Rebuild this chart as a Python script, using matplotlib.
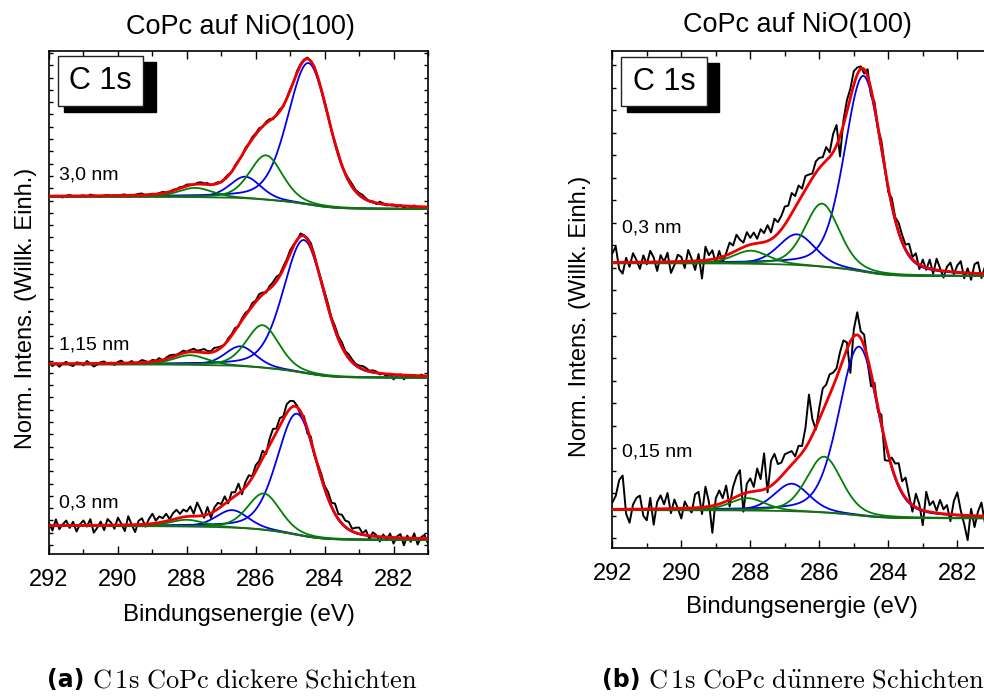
import numpy as np
import matplotlib.pyplot as plt
from matplotlib.patches import Rectangle
from matplotlib.ticker import MultipleLocator

plt.rcParams['font.family'] = ['Liberation Sans', 'DejaVu Sans']
plt.rcParams['mathtext.fontset'] = 'cm'

# measurement grid (binding energy, eV), 0.1 eV steps from 292 down to 281
energy = np.round(np.arange(292.0, 280.95, -0.1), 2)

# ---- fitted components: centre (eV), height, FWHM (eV); order C1, C2, C1-sat, C2-sat
comp_colors = ['#0000ee', '#008000', '#0000ee', '#008000']
lorentz_frac = 0.3

# left panel (dickere Schichten), y unit = one y tick
centers_30 = [284.47, 285.70, 286.30, 287.75]
heights_30 = [11.5, 3.60, 1.75, 0.75]
fwhm_30 = [1.42, 1.12, 1.05, 1.15]
bg_30 = (28.32, 27.32)   # background level at 292 eV / 281 eV

centers_115 = [284.60, 285.80, 286.44, 287.90]
heights_115 = [10.8, 3.45, 1.60, 0.78]
fwhm_115 = [1.42, 1.12, 1.05, 1.15]
bg_115 = (14.69, 13.60)

centers_03a = [284.80, 285.76, 286.68, 288.00]
heights_03a = [9.85, 2.95, 1.42, 0.55]
fwhm_03a = [1.38, 1.12, 1.10, 1.15]
bg_03a = (1.54, 0.41)

# right panel (duennere Schichten)
centers_03b = [284.72, 285.92, 286.65, 287.98]
heights_03b = [8.7, 2.80, 1.36, 0.58]
fwhm_03b = [1.30, 1.18, 1.25, 1.20]
bg_03b = (12.21, 11.64)

centers_015 = [284.85, 285.86, 286.80, 288.08]
heights_015 = [7.5, 2.48, 1.22, 0.55]
fwhm_015 = [1.38, 1.20, 1.20, 1.20]
bg_015 = (1.24, 0.88)

resid_30 = [0.05, -0.1, 0.0, -0.05, -0.12, 0.02, 0.08, -0.03, -0.08, 0.0,
            0.04, -0.06, 0.1, 0.03, -0.05, -0.1, 0.02, 0.06, -0.04, 0.0,
            -0.05, 0.05, 0.08, -0.02, -0.08, 0.03, 0.1, 0.12, -0.05, 0.02,
            0.06, -0.04, 0.05, 0.1, 0.0, -0.06, 0.08, 0.04, 0.1, 0.05,
            0.12, 0.05, -0.05, 0.1, 0.15, 0.08, 0.12, -0.05, 0.05, 0.1,
            -0.05, 0.08, 0.1, -0.06, 0.1, 0.05, -0.08, 0.12, 0.05, 0.15,
            0.08, 0.15, -0.05, 0.1, 0.12, -0.1, 0.05, 0.15, -0.1, 0.05,
            0.1, -0.05, 0.15, 0.1, 0.05, 0.08, -0.05, 0.05, -0.08, 0.0,
            0.05, 0.1, -0.05, 0.08, 0.12, -0.05, 0.05, 0.15, 0.2, 0.1,
            0.15, 0.2, 0.08, -0.05, 0.05, -0.1, 0.15, 0.05, -0.08, 0.0,
            0.05, -0.1, 0.05, -0.15, 0.02, -0.05, 0.08, -0.1, 0.0, -0.12, 0.05]
resid_115 = [0.1, -0.2, 0.05, -0.25, 0.0, 0.15, -0.1, -0.2, 0.1, 0.05,
             -0.15, 0.2, 0.0, -0.25, -0.1, 0.1, 0.15, -0.05, 0.05, -0.15,
             0.1, 0.2, -0.05, 0.0, 0.15, -0.1, 0.05, 0.2, 0.1, -0.05,
             0.15, 0.05, 0.2, -0.05, 0.1, 0.2, 0.15, 0.05, 0.1, 0.2,
             0.05, 0.15, 0.25, 0.1, 0.2, 0.3, 0.15, 0.1, 0.3, 0.2,
             0.1, -0.05, 0.15, 0.1, 0.2, -0.1, 0.15, 0.2, 0.05, 0.25,
             0.1, 0.3, 0.15, -0.1, 0.2, 0.25, 0.35, 0.1, 0.2, 0.15,
             0.25, 0.1, -0.1, 0.2, 0.05, 0.1, 0.25, 0.15, -0.05, 0.1,
             0.2, 0.25, 0.1, 0.3, 0.2, 0.35, 0.15, 0.3, 0.2, 0.1,
             0.15, 0.25, 0.2, 0.05, 0.15, 0.1, -0.1, 0.0, -0.2, 0.05,
             -0.4, -0.1, 0.05, -0.35, 0.0, -0.15, 0.05, -0.2, 0.1, -0.05, 0.0]
resid_03a = [0.2, -0.4, 0.5, -0.3, 0.1, 0.4, -0.2, 0.3, -0.5, 0.1,
             0.4, -0.1, 0.5, -0.6, -0.2, 0.3, -0.4, 0.5, 0.2, -0.3,
             0.6, 0.1, -0.5, 0.7, 0.0, -0.6, 0.3, 0.5, -0.2, 0.4,
             0.8, 0.2, 0.5, 0.3, 0.6, 0.1, 0.5, 0.7, 0.3, 0.6,
             0.4, 0.8, 0.2, 1.1, 0.5, -0.2, 0.6, -0.4, 0.3, 0.5,
             0.2, 0.6, -0.2, 0.5, 0.3, 0.8, -0.3, 0.4, 0.6, 0.1,
             0.5, 0.3, 0.6, -0.2, 0.5, 0.8, 0.3, 0.6, 0.2, 0.7,
             0.6, 0.4, 0.1, -0.3, 0.2, -0.4, 0.3, -0.2, 0.1, 0.3,
             0.2, 0.5, 0.3, 0.8, 0.4, 0.7, 0.5, 0.6, 0.2, 0.4,
             0.5, 0.1, 0.4, -0.3, 0.3, 0.1, -0.4, 0.2, -0.2, 0.3,
             -0.5, 0.1, 0.3, -0.6, 0.2, -0.3, 0.4, -0.5, 0.1, 0.3, -0.4]
resid_03b = [0.4, 0.7, -0.3, -0.5, 0.2, -0.2, 0.4, 0.1, -0.3, 0.3,
             -0.1, 0.5, 0.2, -0.4, 0.3, 0.0, 0.4, -0.5, -0.15, 0.3,
             0.2, -0.3, 0.5, 0.1, -0.4, 0.3, -0.8, 0.6, 0.2, 0.4,
             -0.2, 0.3, -0.25, 0.1, 0.5, 0.3, 0.7, 0.4, 0.2, 0.6,
             0.3, 0.5, 0.2, 0.6, 0.4, 0.7, 0.3, 0.8, 0.5, 0.6,
             0.8, 0.6, 0.9, 0.5, 0.7, 0.3, 0.6, 0.4, 0.2, 0.5,
             0.45, 0.3, 0.6, 0.2, 0.8, 0.9, -0.9, 0.2, 0.5, 0.4,
             0.6, 0.3, 0.1, -0.2, 0.3, -0.3, 0.2, -0.1, 0.3, 0.1,
             -0.2, 0.3, 0.1, 0.4, 0.3, 0.2, 0.5, 0.1, 0.4, -0.2,
             0.3, -0.1, 0.4, -0.2, 0.5, 0.1, -0.3, 0.2, 0.4, -0.1,
             0.3, 0.5, -0.25, 0.2, -0.3, 0.4, 0.5, -0.2, 0.3, -0.4, 0.2]
resid_015 = [0.3, 0.6, 1.3, 1.5, -0.2, -0.6, 0.2, 0.5, 0.6, -0.3,
             -0.5, 0.5, -0.7, 0.3, 0.6, 0.2, 0.7, -0.2, 0.4, 0.0,
             -0.45, 0.3, 0.0, -0.2, 0.6, 0.7, -0.3, 0.9, 0.2, -1.2,
             0.3, 0.6, 0.2, 0.7, -0.3, 0.5, 0.9, 1.1, -0.8, 0.4,
             0.6, 0.2, 1.0, 0.5, 1.6, -0.2, 1.1, 1.3, 0.7, 0.6,
             0.8, 0.7, 0.6, 0.2, 0.5, 0.3, 0.9, 2.1, 0.7, -0.1,
             0.5, 1.0, 0.8, 0.9, 0.6, 0.4, 0.7, 0.8, 0.3, -1.4,
             0.3, 1.0, 0.3, 0.5, -0.2, -0.6, 0.3, -0.2, 0.4, -0.9,
             -0.3, 0.4, 0.6, 1.0, 0.5, 0.9, 0.3, -0.3, 0.6, 0.2,
             -0.67, 0.86, 0.3, 0.5, 0.1, 0.6, 0.2, 0.4, -0.3, 0.6,
             1.0, 0.2, -0.4, -1.1, 0.3, -0.5, 0.2, 0.6, -0.3, 0.5, 0.1]

left_labels = ['3,0 nm', '1,15 nm', '0,3 nm']
right_labels = ['0,3 nm', '0,15 nm']


def pvoigt(e, c, h, w):
    x = (e - c) / (w / 2)
    g = np.exp(-np.log(2) * x ** 2)
    l = 1 / (1 + x ** 2)
    return h * ((1 - lorentz_frac) * g + lorentz_frac * l)


def model(e, centers, heights, fwhm, bg):
    comps = [pvoigt(e, c, h, w) for c, h, w in zip(centers, heights, fwhm)]
    total = np.sum(comps, axis=0)
    # Shirley-type step background, integrated from the low-BE side
    order = np.argsort(e)
    cum = np.empty_like(e)
    cum[order] = np.cumsum(total[order])
    base = bg[1] + (bg[0] - bg[1]) * cum / cum.max()
    return base, comps, base + total


def draw_spectrum(ax, centers, heights, fwhm, bg, resid):
    e_fine = np.linspace(292.0, 281.0, 1101)
    base, comps, fit = model(e_fine, centers, heights, fwhm, bg)
    _, _, fit_data = model(energy, centers, heights, fwhm, bg)
    ax.plot(energy, fit_data + np.array(resid), color='black', lw=1.4, zorder=2)
    for i in [0, 2, 1, 3]:
        ax.plot(e_fine, base + comps[i], color=comp_colors[i], lw=1.3, zorder=3)
    ax.plot(e_fine, base, color='#1a6a1a', lw=1.3, zorder=3)
    ax.plot(e_fine, fit, color='#ee0000', lw=2.0, zorder=4)


def style_axes(ax, ylim, xlab_y, ylab_x, ylab_y, title_x, title_y):
    ax.set_xlim(292, 281)
    ax.set_ylim(*ylim)
    ax.xaxis.set_major_locator(MultipleLocator(2))
    ax.xaxis.set_minor_locator(MultipleLocator(1))
    ax.yaxis.set_major_locator(MultipleLocator(1))
    ax.set_yticklabels([])
    ax.tick_params(axis='x', which='major', direction='in', length=6, width=1,
                   top=True, labelsize=17, pad=11)
    ax.tick_params(axis='x', which='minor', direction='in', length=3.5, width=1, top=True)
    ax.tick_params(axis='y', which='major', direction='in', length=3, width=1,
                   right=True, left=True)
    for s in ax.spines.values():
        s.set_linewidth(1.2)
    ax.set_xlabel('Bindungsenergie (eV)', fontsize=17.3, va='center')
    ax.xaxis.set_label_coords(0.5, xlab_y)
    ax.set_ylabel('Norm. Intens. (Willk. Einh.)', fontsize=17, va='center')
    ax.yaxis.set_label_coords(ylab_x, ylab_y)
    ax.text(title_x, title_y, 'CoPc auf NiO(100)', transform=ax.transAxes,
            ha='center', va='center', fontsize=19.5)


def c1s_box(ax, box, shadow):
    ax.add_patch(Rectangle(shadow[:2], shadow[2], shadow[3], transform=ax.transAxes,
                           facecolor='black', edgecolor='black', zorder=5))
    ax.add_patch(Rectangle(box[:2], box[2], box[3], transform=ax.transAxes,
                           facecolor='white', edgecolor='#222222', lw=1.0, zorder=6))
    ax.text(box[0] + box[2] / 2, box[1] + box[3] / 2, 'C 1s', transform=ax.transAxes,
            ha='center', va='center', fontsize=22, zorder=7)


fig = plt.figure(figsize=(9.84, 6.96), dpi=100)
ax1 = fig.add_axes([49 / 984, 142 / 696, 379 / 984, 503 / 696])
ax2 = fig.add_axes([612.3 / 984, 148 / 696, 379.5 / 984, 497 / 696])

# left panel
draw_spectrum(ax1, centers_30, heights_30, fwhm_30, bg_30, resid_30)
draw_spectrum(ax1, centers_115, heights_115, fwhm_115, bg_115, resid_115)
draw_spectrum(ax1, centers_03a, heights_03a, fwhm_03a, bg_03a, resid_03a)
style_axes(ax1, (-0.73, 40.16), -0.121, -0.061, 0.489, 0.504, 1.048)
c1s_box(ax1, (0.024, 0.891, 0.224, 0.099), (0.040, 0.879, 0.242, 0.099))
for lab, yy in zip(left_labels, [0.7535, 0.4155, 0.1014]):
    ax1.text(0.026, yy, lab, transform=ax1.transAxes, ha='left', va='center', fontsize=14)

# right panel
draw_spectrum(ax2, centers_03b, heights_03b, fwhm_03b, bg_03b, resid_03b)
draw_spectrum(ax2, centers_015, heights_015, fwhm_015, bg_015, resid_015)
style_axes(ax2, (-0.44, 21.64), -0.118, -0.0843, 0.467, 0.488, 1.052)
c1s_box(ax2, (0.023, 0.889, 0.2266, 0.099), (0.039, 0.877, 0.2424, 0.099))
for lab, yy in zip(right_labels, [0.6439, 0.193]):
    ax2.text(0.0256, yy, lab, transform=ax2.transAxes, ha='left', va='center', fontsize=14)

# sub-captions
fig.text(47 / 984, 1 - 680 / 696, '(a)', fontsize=17, fontweight='bold',
         family='DejaVu Sans', ha='left', va='center')
fig.text(92 / 984, 1 - 680 / 696, r'$\mathrm{C\,1s\ CoPc\ dickere\ Schichten}$',
         fontsize=19, ha='left', va='center')
fig.text(602 / 984, 1 - 680 / 696, '(b)', fontsize=17, fontweight='bold',
         family='DejaVu Sans', ha='left', va='center')
fig.text(648 / 984, 1 - 680 / 696, r'$\mathrm{C\,1s\ CoPc\ d\ddot{u}nnere\ Schichten}$',
         fontsize=19, ha='left', va='center')

fig.savefig('out.png', dpi=100)
